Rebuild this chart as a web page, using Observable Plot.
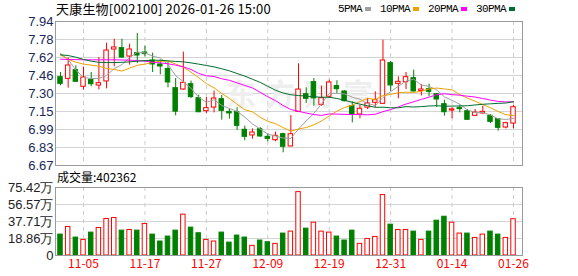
<!DOCTYPE html>
<html><head><meta charset="utf-8">
<script src="https://cdn.jsdelivr.net/npm/d3@7"></script>
<script src="https://cdn.jsdelivr.net/npm/@observablehq/plot@0.6"></script>
<style>
html,body{margin:0;padding:0;background:#fff;}
body{width:578px;height:276px;overflow:hidden;position:relative;font-family:"Noto Sans CJK SC",sans-serif;}
#title{position:absolute;left:56px;top:0px;font-size:13px;line-height:17px;letter-spacing:0.2px;color:#000;white-space:nowrap;}
#legend{position:absolute;left:338px;top:2px;display:flex;align-items:center;font-family:"Liberation Mono",monospace;font-size:11px;letter-spacing:-0.6px;line-height:14px;color:#000;white-space:nowrap;}
#legend .item{display:flex;align-items:center;margin-right:9px;}
#legend .sw{display:inline-block;width:6px;height:4px;margin-left:3px;}
#vlabel{position:absolute;left:57px;top:169px;font-size:12px;line-height:16px;color:#000;white-space:nowrap;}
#price{position:absolute;left:0;top:0;}
#volume{position:absolute;left:0;top:180px;}
</style></head>
<body>
<div id="price"></div>
<div id="volume"></div>
<div id="title"></div>
<div id="legend"></div>
<div id="vlabel"></div>
<script>
// ---------- data ----------
const stockName = "天康生物";
const stockCode = "002100";
const stamp = "2026-01-26 15:00";
const volumeTitle = "成交量";
const lastVolume = 402362;

const dates = ["10-31","11-03","11-04","11-05","11-06","11-07","11-10","11-11","11-12","11-13",
"11-14","11-17","11-18","11-19","11-20","11-21","11-24","11-25","11-26","11-27",
"11-28","12-01","12-02","12-03","12-04","12-05","12-08","12-09","12-10","12-11",
"12-12","12-15","12-16","12-17","12-18","12-19","12-22","12-23","12-24","12-25",
"12-26","12-29","12-30","12-31","01-05","01-06","01-07","01-08","01-09","01-12",
"01-13","01-14","01-15","01-16","01-19","01-20","01-21","01-22","01-23","01-26"];

const open = [7.449,7.434,7.511,7.364,7.426,7.375,7.411,7.693,7.705,7.631,
7.661,7.667,7.596,7.561,7.52,7.352,7.34,7.387,7.264,7.149,
7.181,7.255,7.143,7.14,6.985,6.935,6.99,6.923,6.893,6.946,
6.838,7.143,7.299,7.405,7.205,7.276,7.37,7.323,7.193,7.12,
7.181,7.223,7.214,7.573,7.39,7.405,7.44,7.326,7.343,7.299,
7.211,7.155,7.176,7.149,7.108,7.129,7.108,7.079,7.005,7.04];
const high = [7.49,7.62,7.549,7.537,7.49,7.622,7.749,7.784,7.784,7.74,
7.834,7.722,7.661,7.60,7.578,7.437,7.67,7.414,7.29,7.27,
7.326,7.287,7.17,7.179,7.017,6.993,7.005,6.949,6.964,6.955,
7.11,7.567,7.355,7.437,7.37,7.423,7.417,7.329,7.231,7.2,
7.261,7.32,7.775,7.587,7.452,7.49,7.511,7.384,7.387,7.305,
7.246,7.181,7.202,7.164,7.164,7.193,7.12,7.082,7.052,7.2];
const low = [7.373,7.352,7.405,7.334,7.364,7.337,7.346,7.54,7.614,7.555,
7.57,7.628,7.49,7.47,7.355,7.108,7.334,7.261,7.134,7.126,
7.134,7.07,7.079,6.979,6.888,6.902,6.917,6.879,6.879,6.782,
6.835,7.137,7.217,7.193,7.193,7.261,7.302,7.231,7.046,7.082,
7.164,7.181,7.208,7.323,7.258,7.34,7.317,7.284,7.276,7.181,
7.105,7.082,7.134,7.07,7.102,7.123,7.04,6.973,6.993,6.993];
const close = [7.39,7.552,7.408,7.446,7.387,7.396,7.684,7.711,7.622,7.693,
7.64,7.652,7.561,7.543,7.402,7.145,7.399,7.273,7.14,7.176,
7.261,7.152,7.129,7.02,6.923,6.961,6.926,6.905,6.932,6.835,
6.946,7.34,7.258,7.262,7.264,7.402,7.343,7.237,7.12,7.17,
7.217,7.246,7.596,7.376,7.408,7.449,7.323,7.34,7.32,7.252,
7.14,7.165,7.167,7.073,7.137,7.143,7.055,7.002,7.043,7.184];
const prevClose = 7.43; // close of the day before the first bar

// volume in 万 (10k shares)
const volume = [23.2,31.6,19.9,17.3,25.4,30.5,40.5,41.6,27.6,28.3,
27.6,35.0,23.2,15.5,21.0,27.6,45.3,30.9,24.7,17.3,
15.5,25.4,14.3,22.1,19.9,10.7,16.6,14.7,12.9,24.3,
26.5,70.3,29.8,36.4,26.5,25.4,21.0,16.6,27.6,12.9,
18.4,20.6,67.0,34.2,28.3,28.3,26.5,17.3,26.5,38.6,
43.0,36.4,24.3,24.3,19.5,23.2,26.5,23.2,19.5,40.24];

const ma5 = [7.658,7.605,7.511,7.446,7.437,7.438,7.464,7.525,7.56,7.621,
7.67,7.664,7.634,7.618,7.56,7.461,7.41,7.352,7.272,7.227,
7.25,7.2,7.172,7.148,7.097,7.037,6.992,6.947,6.929,6.912,
6.909,6.992,7.063,7.129,7.214,7.306,7.306,7.301,7.273,7.254,
7.217,7.198,7.27,7.321,7.369,7.415,7.43,7.379,7.368,7.337,
7.275,7.244,7.21,7.16,7.137,7.138,7.115,7.082,7.076,7.085];
const ma10 = [7.646,7.605,7.581,7.564,7.555,7.546,7.526,7.517,7.503,7.529,
7.554,7.564,7.579,7.589,7.59,7.565,7.537,7.493,7.445,7.393,
7.355,7.305,7.262,7.21,7.162,7.143,7.096,7.059,7.039,7.004,
6.973,6.992,7.005,7.029,7.063,7.107,7.149,7.182,7.201,7.234,
7.262,7.252,7.286,7.297,7.312,7.316,7.314,7.325,7.345,7.353,
7.345,7.337,7.295,7.264,7.237,7.207,7.18,7.146,7.118,7.111];
const ma20 = [7.608,7.605,7.604,7.602,7.602,7.602,7.602,7.602,7.601,7.599,
7.596,7.59,7.581,7.575,7.567,7.555,7.54,7.517,7.482,7.461,
7.455,7.435,7.421,7.399,7.376,7.354,7.316,7.276,7.242,7.199,
7.164,7.148,7.133,7.119,7.112,7.125,7.123,7.121,7.12,7.119,
7.117,7.122,7.145,7.163,7.187,7.212,7.232,7.253,7.273,7.294,
7.303,7.295,7.29,7.281,7.274,7.261,7.247,7.235,7.231,7.232];
const ma30 = [7.646,7.64,7.625,7.605,7.59,7.58,7.578,7.578,7.58,7.584,
7.59,7.595,7.598,7.598,7.593,7.588,7.584,7.575,7.564,7.552,
7.54,7.523,7.505,7.481,7.458,7.431,7.403,7.368,7.334,7.309,
7.294,7.287,7.282,7.276,7.272,7.272,7.261,7.245,7.228,7.211,
7.197,7.183,7.184,7.179,7.179,7.189,7.186,7.189,7.195,7.197,
7.193,7.194,7.195,7.197,7.204,7.21,7.214,7.218,7.221,7.233];

const maNames = ["5PMA","10PMA","20PMA","30PMA"];
const priceTicks = [7.94,7.78125,7.6225,7.46375,7.305,7.14625,6.9875,6.82875,6.67];
const priceTickLabels = ["7.94","7.78","7.62","7.46","7.30","7.15","6.99","6.83","6.67"];
const volTicks = [0,18.855,37.71,56.565,75.42];
const volTickLabels = ["0","18.86万","37.71万","56.57万","75.42万"];
const dateTickLabels = ["11-05","11-17","11-27","12-09","12-19","12-31","01-14","01-26"];
const watermark = "东方财富";

// ---------- build ----------
const RED = "#ff0000", GREEN = "#008000";
const maColors = ["#a0a0a0","#f0a000","#ff00ff","#006e2e"];
const maData = [ma5, ma10, ma20, ma30];

const rows = dates.map((d, i) => ({
  i, o: open[i], h: high[i], l: low[i], c: close[i], v: volume[i],
  up: close[i] >= open[i],
  vup: close[i] >= (i ? close[i - 1] : prevClose)
}));
const tickIdx = dateTickLabels.map(t => dates.indexOf(t));
const xDomain = [-0.65, 60.17];
const HW = 0.29;

document.getElementById("title").textContent = `${stockName}[${stockCode}] ${stamp}`;
document.getElementById("vlabel").textContent = `${volumeTitle}:${lastVolume}`;
const lg = document.getElementById("legend");
maNames.forEach((n, k) => {
  const it = document.createElement("span"); it.className = "item";
  const t = document.createElement("span"); t.textContent = n;
  const s = document.createElement("span"); s.className = "sw"; s.style.background = maColors[k];
  it.appendChild(t); it.appendChild(s); lg.appendChild(it);
});

const price = Plot.plot({
  width: 578, height: 167,
  marginLeft: 55, marginRight: 56, marginTop: 21, marginBottom: 2,
  x: {type: "linear", domain: xDomain, axis: null, label: null},
  y: {domain: [6.67, 7.94], axis: null, label: null},
  style: {background: "transparent", overflow: "visible"},
  marks: [
    Plot.ruleY(priceTicks, {stroke: "#d4d4d4"}),
    Plot.ruleX(tickIdx, {stroke: "#cccccc", strokeDasharray: "4,4"}),
    Plot.text([watermark], {frameAnchor: "middle", dx: 15, dy: 2, fontSize: 30, fontWeight: "bold",
      fill: "#eeeeee", fontFamily: "Noto Sans CJK SC"}),
    Plot.ruleX(rows, {x: "i", y1: "l", y2: "h", stroke: d => d.up ? RED : GREEN}),
    Plot.rect(rows, {x1: d => d.i - HW, x2: d => d.i + HW, y1: "o", y2: "c",
      fill: d => d.up ? "#ffffff" : GREEN, stroke: d => d.up ? RED : GREEN}),
    ...maData.map((arr, k) => Plot.line(arr, {x: (d, i) => i, y: d => d, stroke: maColors[k], strokeWidth: 1})),
    Plot.frame({stroke: "#9a9a9a"}),
    Plot.axisY(priceTicks, {anchor: "left", tickSize: 0, tickPadding: 2, label: null,
      tickFormat: d => priceTickLabels[priceTicks.indexOf(d)],
      fontSize: 13, fontFamily: "Liberation Sans", fill: "#18285a"})
  ]
});
document.getElementById("price").appendChild(price);

const vol = Plot.plot({
  width: 578, height: 96,
  marginLeft: 55, marginRight: 56, marginTop: 7, marginBottom: 21,
  x: {type: "linear", domain: xDomain, axis: null, label: null},
  y: {domain: [0, 75.42], axis: null, label: null},
  style: {background: "transparent", overflow: "visible"},
  marks: [
    Plot.ruleY(volTicks, {stroke: "#d4d4d4"}),
    Plot.ruleX(tickIdx, {stroke: "#cccccc", strokeDasharray: "4,4"}),
    Plot.rect(rows, {x1: d => d.i - HW, x2: d => d.i + HW, y1: 0, y2: "v",
      fill: d => d.vup ? "#ffffff" : GREEN, stroke: d => d.vup ? RED : GREEN}),
    Plot.frame({stroke: "#9a9a9a"}),
    Plot.axisY(volTicks, {anchor: "left", tickSize: 0, tickPadding: 2, label: null,
      tickFormat: d => volTickLabels[volTicks.indexOf(d)],
      fontSize: 13, fontFamily: "Liberation Sans", fill: "#222222"}),
    Plot.axisX(tickIdx, {anchor: "bottom", tickSize: 0, tickPadding: 4, label: null,
      tickFormat: d => dates[d], fontSize: 12, fontFamily: "Noto Sans CJK SC", fill: RED})
  ]
});
document.getElementById("volume").appendChild(vol);

// letter spacing for the faint watermark
d3.select(price).selectAll("text").filter(function(){ return this.textContent === watermark; })
  .attr("letter-spacing", "9px");
</script>
</body></html>
